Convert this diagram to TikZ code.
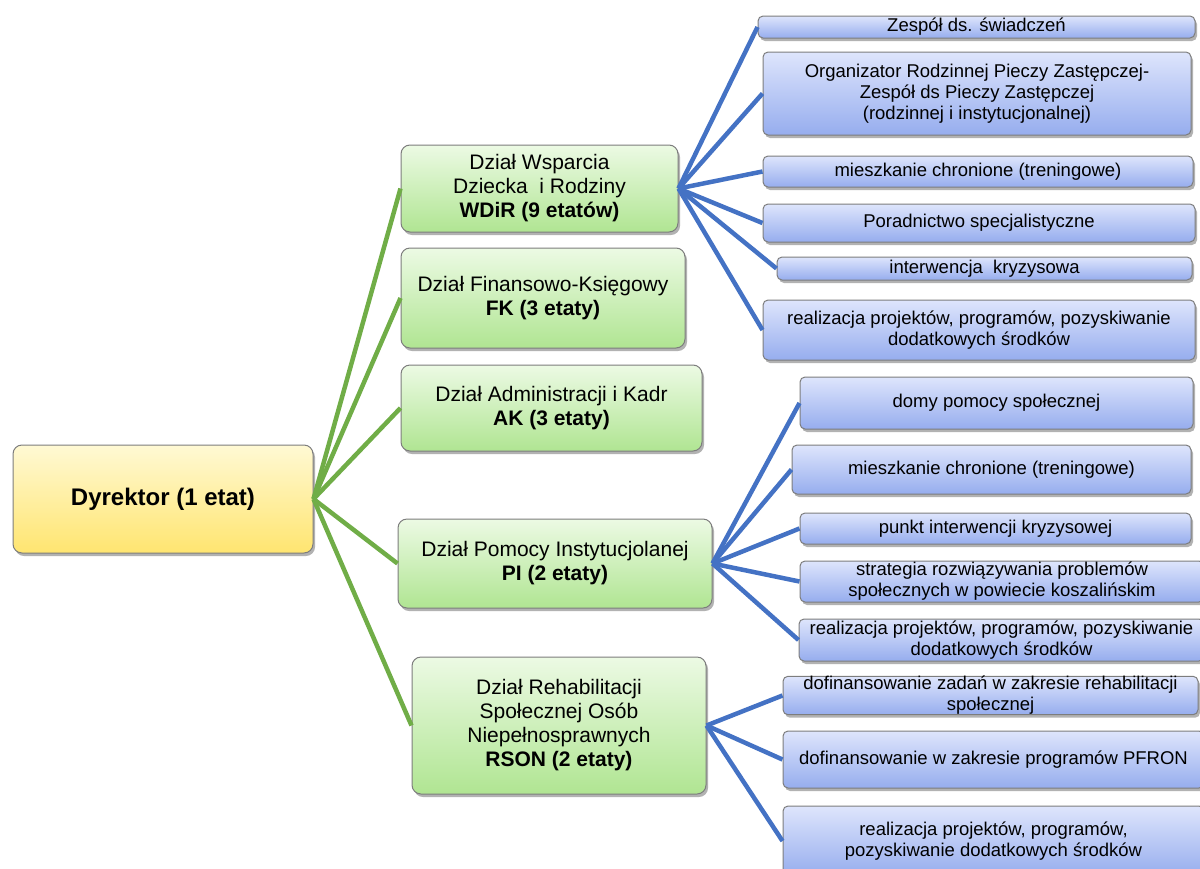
\documentclass[tikz,border=0pt]{standalone}
\usepackage{fontspec}
\setmainfont{Liberation Sans}
\usetikzlibrary{shadows}
\definecolor{yTop}{RGB}{255,249,212}
\definecolor{yBot}{RGB}{255,229,112}
\definecolor{gTop}{RGB}{236,250,228}
\definecolor{gBot}{RGB}{176,229,146}
\definecolor{bTop}{RGB}{222,229,252}
\definecolor{bBot}{RGB}{150,173,238}
\definecolor{edgeGray}{RGB}{125,125,125}
\definecolor{lnGreen}{RGB}{112,173,71}
\definecolor{lnBlue}{RGB}{68,114,196}
\tikzset{
  basebox/.style={draw=edgeGray, line width=1pt, inner sep=0pt, align=center,
    drop shadow={shadow xshift=2pt, shadow yshift=-3pt, opacity=0.3, fill=black}},
  dirbox/.style={basebox, rounded corners=9pt, top color=yTop, bottom color=yBot,
    font=\fontsize{24}{27}\selectfont\bfseries},
  deptbox/.style={basebox, rounded corners=9pt, top color=gTop, bottom color=gBot,
    font=\fontsize{21}{24}\selectfont},
  taskbox/.style={basebox, rounded corners=5pt, top color=bTop, bottom color=bBot,
    font=\fontsize{18.5}{21}\selectfont},
  gline/.style={draw=lnGreen, line width=4.5pt},
  bline/.style={draw=lnBlue, line width=4.5pt},
}
\begin{document}
\begin{tikzpicture}[x=1pt,y=-1pt]
\useasboundingbox (0,0) rectangle (1200,868);
% director
\node[dirbox, minimum width=300pt, minimum height=108pt] (dyr) at (163,499) {Dyrektor (1 etat)};
% departments
\node[deptbox, minimum width=277pt, minimum height=87pt] (wdir) at (539.5,188.5)
  {Dział Wsparcia\\Dziecka~ i Rodziny\\\textbf{WDiR (9 etatów)}};
\node[deptbox, minimum width=284pt, minimum height=100pt] (fk) at (543,298)
  {Dział Finansowo-Księgowy\\\textbf{FK (3 etaty)}};
\node[deptbox, minimum width=301pt, minimum height=86pt] (ak) at (551.5,408)
  {Dział Administracji i Kadr\\\textbf{AK (3 etaty)}};
\node[deptbox, minimum width=314pt, minimum height=89pt] (pi) at (555,563.5)
  {Dział Pomocy Instytucjolanej\\\textbf{PI (2 etaty)}};
\node[deptbox, minimum width=294pt, minimum height=137pt] (rson) at (559,725.5)
  {Dział Rehabilitacji\\Społecznej Osób\\Niepełnosprawnych\\\textbf{RSON (2 etaty)}};
% WDiR tasks
\node[taskbox, minimum width=437pt, minimum height=22pt] (t1) at (976.5,27) {Zespół ds. świadczeń};
\node[taskbox, minimum width=428pt, minimum height=83pt] (t2) at (977,93.5)
  {Organizator Rodzinnej Pieczy Zastępczej-\\Zespół ds Pieczy Zastępczej\\(rodzinnej i instytucjonalnej)};
\node[taskbox, minimum width=430pt, minimum height=31pt] (t3) at (978,171.5) {mieszkanie chronione (treningowe)};
\node[taskbox, minimum width=432pt, minimum height=38pt] (t4) at (979,223) {Poradnictwo specjalistyczne};
\node[taskbox, minimum width=415pt, minimum height=23pt] (t5) at (984.5,268.5) {interwencja~ kryzysowa};
\node[taskbox, minimum width=432pt, minimum height=60pt] (t6) at (979,330)
  {realizacja projektów, programów, pozyskiwanie\\dodatkowych środków};
% PI tasks
\node[taskbox, minimum width=393pt, minimum height=52pt] (p1) at (996.5,403) {domy pomocy społecznej};
\node[taskbox, minimum width=399pt, minimum height=49pt] (p2) at (991.5,469.5) {mieszkanie chronione (treningowe)};
\node[taskbox, minimum width=391pt, minimum height=31pt] (p3) at (995.5,528.5) {punkt interwencji kryzysowej};
\node[taskbox, minimum width=404pt, minimum height=41pt] (p4) at (1002,581.5)
  {strategia rozwiązywania problemów\\społecznych w powiecie koszalińskim};
\node[taskbox, minimum width=405pt, minimum height=42pt] (p5) at (1001.5,640)
  {realizacja projektów, programów, pozyskiwanie\\dodatkowych środków};
% RSON tasks
\node[taskbox, minimum width=415pt, minimum height=35pt] (r1) at (990.5,695.5)
  {dofinansowanie zadań w zakresie rehabilitacji\\społecznej};
\node[taskbox, minimum width=421pt, minimum height=57pt] (r2) at (993.5,759.5)
  {dofinansowanie w zakresie programów PFRON};
\node[taskbox, minimum width=421pt, minimum height=70pt] (r3) at (993.5,841)
  {realizacja projektów, programów,\\pozyskiwanie dodatkowych środków};
% connectors
\foreach \d in {wdir,fk,ak,pi,rson} \draw[gline] (dyr.east) -- (\d.west);
\foreach \t in {t1,t2,t3,t4,t5,t6} \draw[bline] (wdir.east) -- (\t.west);
\foreach \t in {p1,p2,p3,p4,p5} \draw[bline] (pi.east) -- (\t.west);
\foreach \t in {r1,r2,r3} \draw[bline] (rson.east) -- (\t.west);
\end{tikzpicture}
\end{document}
